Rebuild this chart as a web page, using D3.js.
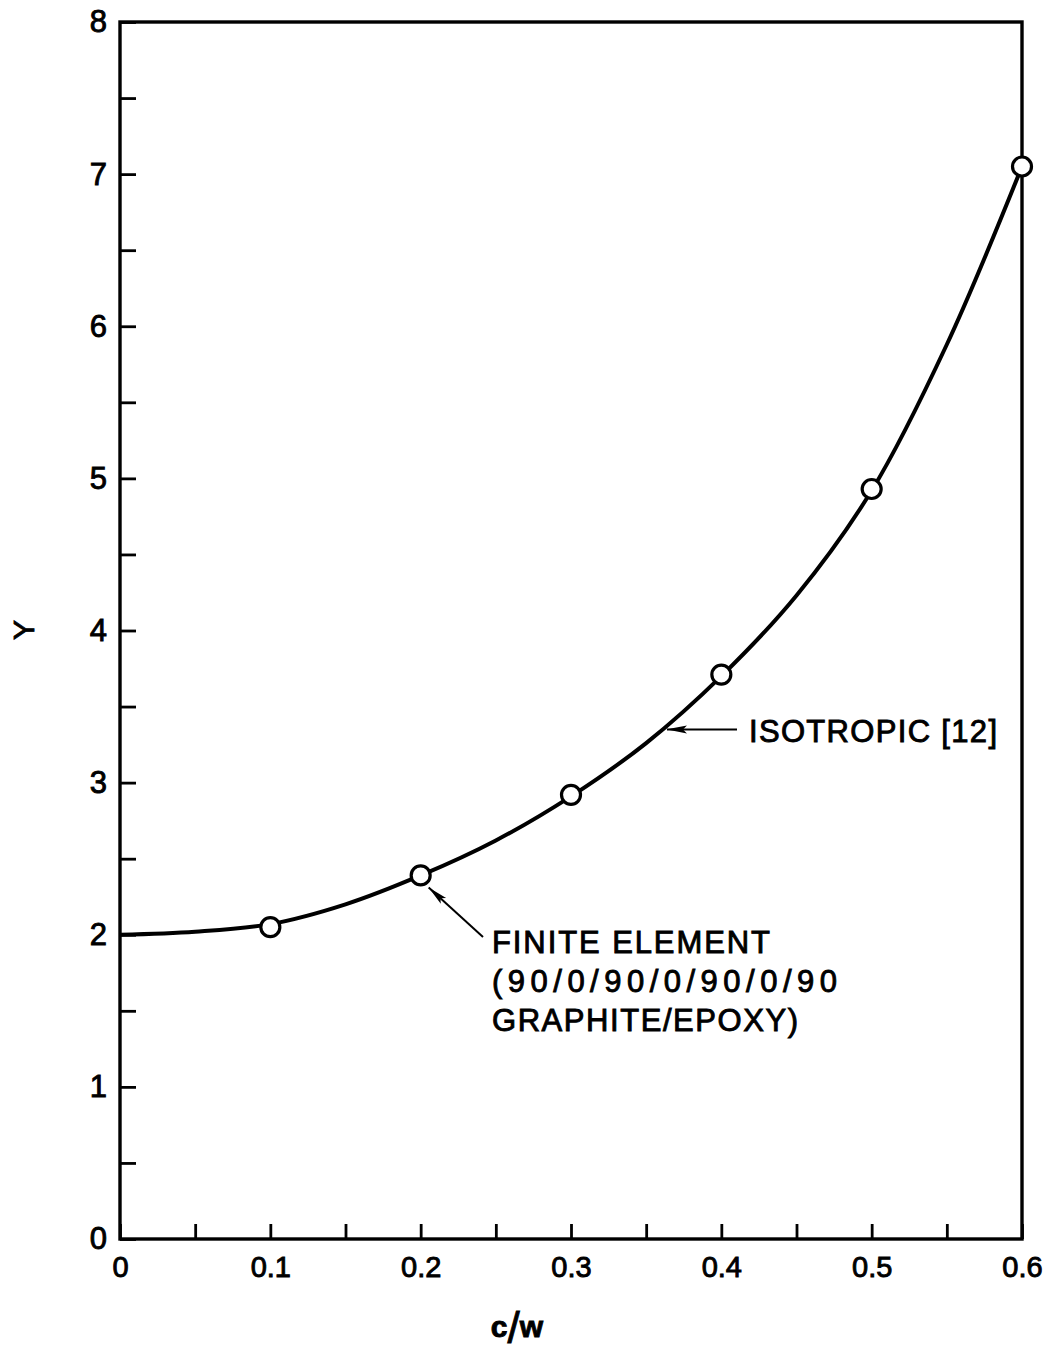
<!DOCTYPE html>
<html>
<head>
<meta charset="utf-8">
<script src="https://cdn.jsdelivr.net/npm/d3@7"></script>
<style>
  html, body { margin: 0; padding: 0; background: #fff; }
  svg { display: block; }
  text { font-family: "Liberation Sans", Arial, sans-serif; fill: #000; stroke: #000; stroke-width: 0.9px; }
</style>
</head>
<body>
<svg id="chart" width="1050" height="1353"></svg>
<script>
// Isotropic solution curve, Y versus c/w
const curveCW = [0, 0.05, 0.1, 0.15, 0.2, 0.25, 0.3, 0.35, 0.4, 0.45, 0.5, 0.55, 0.6];
const curveY  = [2.00, 2.02, 2.07, 2.20, 2.39, 2.62, 2.91, 3.26, 3.70, 4.23, 4.92, 5.88, 7.05];

// Finite element results, 90/0/90/0/90/0/90 graphite/epoxy
const feCW = [0.1, 0.2, 0.3, 0.4, 0.5, 0.6];
const feY  = [2.05, 2.39, 2.92, 3.71, 4.93, 7.05];

// Axis ticks
const xTicks = [0, 0.05, 0.1, 0.15, 0.2, 0.25, 0.3, 0.35, 0.4, 0.45, 0.5, 0.55, 0.6];
const xTickLabels = ["0", "", "0.1", "", "0.2", "", "0.3", "", "0.4", "", "0.5", "", "0.6"];
const yTicks = [0, 0.5, 1, 1.5, 2, 2.5, 3, 3.5, 4, 4.5, 5, 5.5, 6, 6.5, 7, 7.5, 8];
const yTickLabels = ["0", "", "1", "", "2", "", "3", "", "4", "", "5", "", "6", "", "7", "", "8"];

const svg = d3.select("#chart");
const plotLeft = 120, plotRight = 1022, plotTop = 22, plotBottom = 1239;

const x = d3.scaleLinear().domain([0, 0.6]).range([plotLeft, plotRight]);
const y = d3.scaleLinear().domain([0, 8]).range([plotBottom, plotTop]);

// arrowhead marker
const defs = svg.append("defs");
defs.append("marker")
  .attr("id", "arrow")
  .attr("viewBox", "0 0 20 10")
  .attr("refX", 20).attr("refY", 5)
  .attr("markerWidth", 20).attr("markerHeight", 10)
  .attr("markerUnits", "userSpaceOnUse")
  .attr("orient", "auto")
  .append("path")
  .attr("d", "M0,1 L20,5 L0,9 L4,5 Z")
  .attr("fill", "#000");

// y axis with inward ticks
const yAxis = d3.axisLeft(y)
  .tickValues(yTicks)
  .tickSize(-16)
  .tickPadding(13)
  .tickFormat((d, i) => yTickLabels[i]);
const gy = svg.append("g").attr("transform", `translate(${plotLeft},0)`).call(yAxis);
gy.select(".domain").remove();
gy.selectAll(".tick line").attr("stroke", "#000").attr("stroke-width", 2.8);
gy.selectAll(".tick text").attr("font-size", 31).attr("fill", "#000");

// x axis with inward ticks
const xAxis = d3.axisBottom(x)
  .tickValues(xTicks)
  .tickSize(-15)
  .tickPadding(17)
  .tickFormat((d, i) => xTickLabels[i]);
const gx = svg.append("g").attr("transform", `translate(0,${plotBottom})`).call(xAxis);
gx.select(".domain").remove();
gx.selectAll(".tick line").attr("stroke", "#000").attr("stroke-width", 2.8);
gx.selectAll(".tick text").attr("font-size", 29).attr("fill", "#000");

// plot frame
svg.append("rect")
  .attr("x", plotLeft).attr("y", plotTop)
  .attr("width", plotRight - plotLeft).attr("height", plotBottom - plotTop)
  .attr("fill", "none").attr("stroke", "#000").attr("stroke-width", 3.4);

// isotropic curve
const line = d3.line()
  .x(d => x(d[0]))
  .y(d => y(d[1]))
  .curve(d3.curveCatmullRom.alpha(0.5));
svg.append("path")
  .datum(curveCW.map((c, i) => [c, curveY[i]]))
  .attr("d", line)
  .attr("fill", "none")
  .attr("stroke", "#000")
  .attr("stroke-width", 4);

// finite element points
svg.append("g").selectAll("circle")
  .data(feCW.map((c, i) => [c, feY[i]]))
  .join("circle")
  .attr("cx", d => x(d[0]))
  .attr("cy", d => y(d[1]))
  .attr("r", 9.5)
  .attr("fill", "#fff")
  .attr("stroke", "#000")
  .attr("stroke-width", 3.2);

// annotation: isotropic
const isoX = x(0.3625), isoY = y(3.35);
svg.append("line")
  .attr("x1", 737).attr("y1", isoY)
  .attr("x2", isoX + 2).attr("y2", isoY)
  .attr("stroke", "#000").attr("stroke-width", 2)
  .attr("marker-end", "url(#arrow)");
svg.append("text")
  .attr("x", 749).attr("y", 742)
  .attr("font-size", 31)
  .attr("textLength", 248).attr("lengthAdjust", "spacing")
  .text("ISOTROPIC [12]");

// annotation: finite element
svg.append("line")
  .attr("x1", 483).attr("y1", 937)
  .attr("x2", x(0.2) + 8).attr("y2", y(2.39) + 12)
  .attr("stroke", "#000").attr("stroke-width", 2)
  .attr("marker-end", "url(#arrow)");
const feLines = [
  { t: "FINITE ELEMENT", y: 953, w: 278 },
  { t: "(90/0/90/0/90/0/90", y: 992, w: 345 },
  { t: "GRAPHITE/EPOXY)", y: 1031, w: 306 }
];
svg.append("g").selectAll("text")
  .data(feLines)
  .join("text")
  .attr("x", 492).attr("y", d => d.y)
  .attr("font-size", 31)
  .attr("textLength", d => d.w).attr("lengthAdjust", "spacing")
  .text(d => d.t);

// axis titles
svg.append("text")
  .attr("transform", "translate(34,630) rotate(-90)")
  .attr("text-anchor", "middle")
  .attr("font-size", 30)
  .text("Y");
const xTitle = svg.append("text")
  .attr("x", 517).attr("y", 1337)
  .attr("text-anchor", "middle")
  .attr("font-size", 30)
  .attr("font-weight", "bold");
xTitle.append("tspan").text("c");
xTitle.append("tspan").attr("font-size", 44).attr("font-weight", "normal").attr("dy", 6).text("/");
xTitle.append("tspan").attr("dy", -6).text("w");
</script>
</body>
</html>
